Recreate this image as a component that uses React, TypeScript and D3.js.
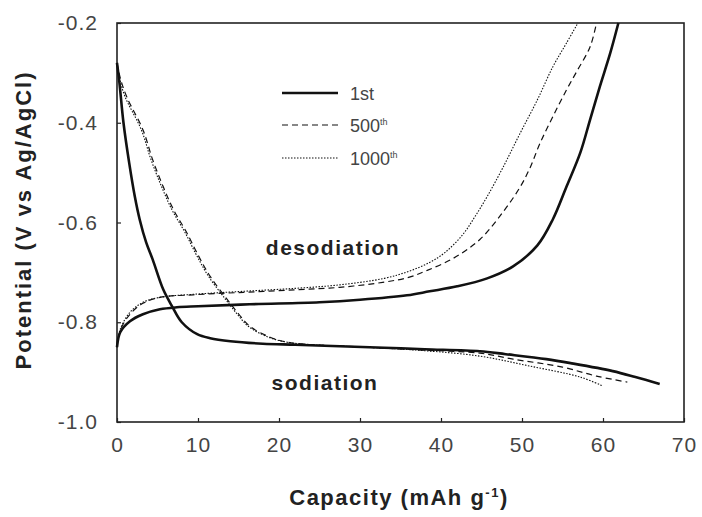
import React, { useEffect, useRef } from "react";
import * as d3 from "d3";

// capacity (mAh/g) and potential (V vs Ag/AgCl)
const sod1Cap = [0, 0.3, 0.8, 1.5, 2.2, 2.8, 3.6, 4.4, 5.7, 6.8, 8.0, 9.9, 11.5, 14, 18, 22, 27.5, 33, 38, 44.8, 48, 53, 56, 61.2, 64, 67];
const sod1Pot = [-0.28, -0.32, -0.4, -0.48, -0.548, -0.594, -0.64, -0.674, -0.734, -0.768, -0.8, -0.824, -0.832, -0.838, -0.843, -0.845, -0.848, -0.851, -0.854, -0.858, -0.864, -0.874, -0.882, -0.898, -0.91, -0.924];

const desod1Cap = [0, 0.4, 1.6, 3.2, 5.3, 7.4, 10, 16.4, 25, 30, 35.8, 38.6, 42, 45.7, 48.9, 51.9, 53.8, 55.5, 57.2, 58.4, 59.6, 60.9, 61.9];
const desod1Pot = [-0.85, -0.82, -0.798, -0.784, -0.774, -0.77, -0.768, -0.764, -0.76, -0.755, -0.746, -0.738, -0.728, -0.712, -0.688, -0.646, -0.594, -0.528, -0.46, -0.394, -0.328, -0.26, -0.2];

const sod500Cap = [0, 0.4, 1.2, 3.2, 4.4, 5.7, 7, 8.6, 10, 11.5, 13.6, 15, 16.4, 18.9, 21, 24, 28, 33, 38, 44.8, 48.9, 55, 59.2, 63];
const sod500Pot = [-0.28, -0.31, -0.348, -0.414, -0.474, -0.528, -0.575, -0.62, -0.665, -0.708, -0.754, -0.783, -0.808, -0.83, -0.84, -0.845, -0.848, -0.852, -0.856, -0.862, -0.874, -0.89, -0.908, -0.92];

const desod500Cap = [0, 0.4, 1.6, 3.2, 5.3, 9.4, 15.6, 22, 27.5, 32.8, 36, 38.3, 41.5, 44.8, 47.7, 49.8, 51, 52.2, 53.8, 55.5, 56.8, 58.4, 59.2];
const desod500Pot = [-0.85, -0.816, -0.784, -0.762, -0.75, -0.745, -0.74, -0.735, -0.73, -0.72, -0.71, -0.696, -0.672, -0.634, -0.578, -0.528, -0.49, -0.442, -0.388, -0.334, -0.296, -0.248, -0.2];

const sod1000Cap = [0, 0.3, 1.0, 3.0, 4.2, 5.5, 6.8, 8.4, 9.8, 11.3, 13.4, 14.8, 16.2, 18.7, 21, 24, 28, 33, 38, 44.8, 51, 57.2, 60];
const sod1000Pot = [-0.28, -0.31, -0.348, -0.414, -0.474, -0.528, -0.575, -0.62, -0.665, -0.708, -0.754, -0.783, -0.808, -0.83, -0.84, -0.845, -0.848, -0.852, -0.857, -0.868, -0.888, -0.91, -0.928];

const desod1000Cap = [0, 0.4, 1.6, 3.2, 5.3, 9.4, 15.6, 22, 27.5, 33, 36, 38.6, 40.5, 42.7, 44.2, 45.7, 47.7, 49.8, 51.9, 53.8, 55.5, 56.9];
const desod1000Pot = [-0.85, -0.814, -0.78, -0.76, -0.75, -0.744, -0.738, -0.732, -0.725, -0.712, -0.698, -0.68, -0.66, -0.624, -0.588, -0.548, -0.488, -0.42, -0.354, -0.288, -0.24, -0.2];

const xTicks = [0, 10, 20, 30, 40, 50, 60, 70];
const yTicks = [-1.0, -0.8, -0.6, -0.4, -0.2];
const legendNames = ["1st", "500", "1000"];
const legendSup = ["", "th", "th"];

const W = 702;
const H = 517;

export default function App() {
  const ref = useRef<SVGSVGElement>(null);

  useEffect(() => {
    const svg = d3.select(ref.current);
    svg.selectAll("*").remove();

    const margin = { top: 23, right: 18, bottom: 95, left: 117 };
    const innerW = W - margin.left - margin.right;
    const innerH = H - margin.top - margin.bottom;

    const x = d3.scaleLinear().domain([0, 70]).range([0, innerW]);
    const y = d3.scaleLinear().domain([-1.0, -0.2]).range([innerH, 0]);

    const g = svg.append("g").attr("transform", `translate(${margin.left},${margin.top})`);

    const tickFont = "'Liberation Sans', Arial, sans-serif";

    const xAxis = g.append("g").attr("transform", `translate(0,${innerH})`)
      .call(d3.axisBottom(x).tickValues(xTicks).tickSize(-4).tickPadding(15).tickFormat((d) => String(d)));
    const yAxis = g.append("g")
      .call(d3.axisLeft(y).tickValues(yTicks).tickSize(-4).tickPadding(19).tickFormat((d) => (+d).toFixed(1)));

    [xAxis, yAxis].forEach((a) => {
      a.select(".domain").remove();
      a.selectAll("line").attr("stroke", "#222").attr("stroke-width", 1.2);
      a.selectAll("text").attr("font-family", tickFont).attr("font-size", 21)
        .attr("letter-spacing", 1).attr("fill", "#444");
    });

    g.append("rect").attr("width", innerW).attr("height", innerH)
      .attr("fill", "none").attr("stroke", "#222").attr("stroke-width", 1.6);

    const line = d3.line<[number, number]>()
      .x((d) => x(d[0])).y((d) => y(d[1]))
      .curve(d3.curveCatmullRom.alpha(0.5));

    const zip = (a: number[], b: number[]) => a.map((v, i) => [v, b[i]] as [number, number]);

    const styles = [
      { w: 2.6, dash: null as string | null },
      { w: 1.2, dash: "6,4" },
      { w: 1.1, dash: "1.5,1.5" },
    ];

    const curves = [
      { d: zip(sod1000Cap, sod1000Pot), s: 2 },
      { d: zip(desod1000Cap, desod1000Pot), s: 2 },
      { d: zip(sod500Cap, sod500Pot), s: 1 },
      { d: zip(desod500Cap, desod500Pot), s: 1 },
      { d: zip(sod1Cap, sod1Pot), s: 0 },
      { d: zip(desod1Cap, desod1Pot), s: 0 },
    ];

    curves.forEach((c) => {
      const st = styles[c.s];
      g.append("path").attr("d", line(c.d))
        .attr("fill", "none").attr("stroke", "#111")
        .attr("stroke-width", st.w)
        .attr("stroke-dasharray", st.dash);
    });

    // legend
    const legY = [93, 125, 158];
    legendNames.forEach((name, i) => {
      const st = styles[i];
      svg.append("line").attr("x1", 282).attr("x2", 338).attr("y1", legY[i]).attr("y2", legY[i])
        .attr("stroke", "#111").attr("stroke-width", st.w).attr("stroke-dasharray", st.dash);
      const t = svg.append("text").attr("x", 350).attr("y", legY[i] + 7)
        .attr("font-family", tickFont).attr("font-size", 18).attr("fill", "#444").text(name);
      if (legendSup[i]) {
        t.append("tspan").attr("font-size", 9).attr("dy", -7).text(legendSup[i]);
      }
    });

    const boldFont = "'Liberation Sans', Arial, sans-serif";

    svg.append("text").attr("x", 333).attr("y", 255).attr("text-anchor", "middle")
      .attr("font-family", boldFont).attr("font-weight", "bold").attr("font-size", 21)
      .attr("letter-spacing", 1.5).attr("fill", "#222").text("desodiation");

    svg.append("text").attr("x", 325).attr("y", 390).attr("text-anchor", "middle")
      .attr("font-family", boldFont).attr("font-weight", "bold").attr("font-size", 21)
      .attr("letter-spacing", 1.5).attr("fill", "#222").text("sodiation");

    // axis titles
    const xt = svg.append("text").attr("x", 399).attr("y", 505).attr("text-anchor", "middle")
      .attr("font-family", boldFont).attr("font-weight", "bold").attr("font-size", 22)
      .attr("letter-spacing", 1.5).attr("fill", "#222");
    xt.append("tspan").text("Capacity (mAh g");
    xt.append("tspan").attr("font-size", 13).attr("dy", -8).text("-1");
    xt.append("tspan").attr("dy", 8).text(")");

    svg.append("text").attr("transform", "translate(31,220) rotate(-90)").attr("text-anchor", "middle")
      .attr("font-family", boldFont).attr("font-weight", "bold").attr("font-size", 22)
      .attr("letter-spacing", 2).attr("fill", "#222").text("Potential (V vs Ag/AgCl)");
  }, []);

  return (
    <svg ref={ref} width={W} height={H}
      style={{ position: "absolute", left: 0, top: 0, background: "#fff" }} />
  );
}
